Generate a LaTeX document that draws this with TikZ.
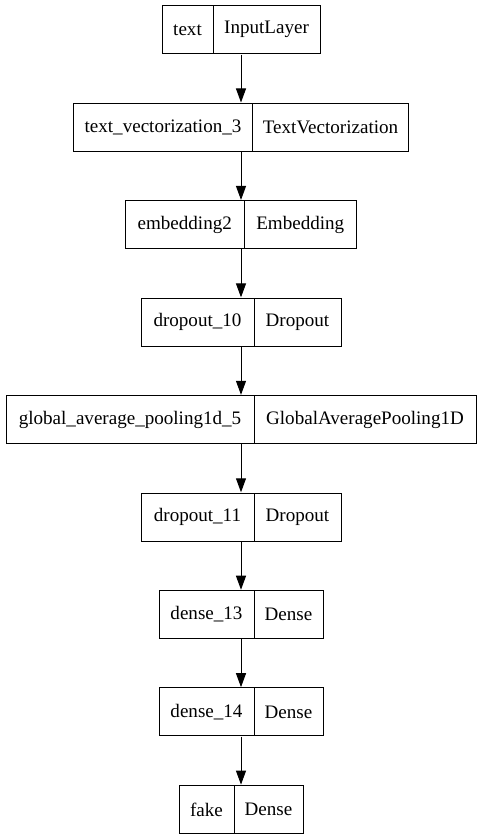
\documentclass[tikz,border=0pt]{standalone}
\usepackage{fontspec}
\setmainfont{Liberation Serif}
\usetikzlibrary{arrows.meta,fit}
\newcommand\layer[7]{%
  \node[cell, minimum width={(#3-#2)*0.75pt}] (n#1) at (#2,#5) {#6};
  \node[cell, minimum width={(#4-#3)*0.75pt}] (t#1) at (#3,#5) {#7};
  \node[fit=(n#1)(t#1), inner sep=0pt] (b#1) {};
}
\begin{document}
\begin{tikzpicture}[x=0.75pt,y=-0.75pt,
  cell/.style={draw=black, line width=0.75pt, inner sep=0pt,
    minimum height=36pt, anchor=north west,
    font=\fontsize{14.3}{16}\selectfont},
  arr/.style={-{Triangle[length=10.5pt,width=7.5pt]}, line width=0.75pt}]
\useasboundingbox (0,0) rectangle (481,839);
\layer{1}{161.5}{212.5}{319.5}{5.3}{text}{InputLayer}
\layer{2}{73}{252}{408}{102.75}{text\_vectorization\_3}{TextVectorization}
\layer{3}{125}{243.5}{356}{200.2}{embedding2}{Embedding}
\layer{4}{140.5}{253.5}{340.5}{297.65}{dropout\_10}{Dropout}
\layer{5}{5.5}{253.5}{475.5}{395.1}{global\_average\_pooling1d\_5}{GlobalAveragePooling1D}
\layer{6}{140.5}{253.5}{340.5}{492.55}{dropout\_11}{Dropout}
\layer{7}{158.5}{253.5}{322.5}{590}{dense\_13}{Dense}
\layer{8}{158.5}{253.5}{322.5}{687.45}{dense\_14}{Dense}
\layer{9}{178.5}{233.5}{302.5}{784.9}{fake}{Dense}
\foreach \a/\b in {1/2,2/3,3/4,4/5,5/6,6/7,7/8,8/9}
  \draw[arr] (b\a.south) -- (b\b.north);
\end{tikzpicture}
\end{document}
